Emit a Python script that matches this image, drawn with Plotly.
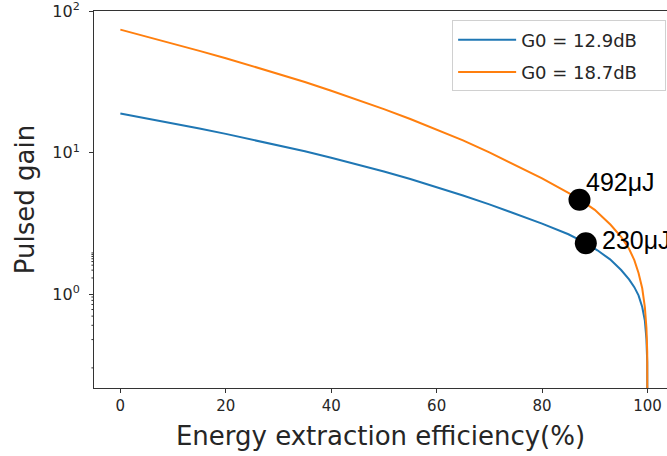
import math
import plotly.graph_objects as go

# Data
eff_blue = [0, 5, 10, 15, 20, 25, 30, 35, 40, 45, 50, 55, 60, 65, 70, 75, 80, 85, 88.3,
            90.5, 92.9, 95, 96.5, 97.5, 98.3, 99, 99.5, 99.8, 99.95, 100]
gain_blue = [18.9, 17.46, 16.11, 14.81, 13.57, 12.39, 11.27, 10.21, 9.20, 8.25, 7.36, 6.51, 5.71, 4.98,
             4.31, 3.70, 3.15, 2.65, 2.29, 2.04, 1.76, 1.48, 1.27, 1.12, 0.98, 0.81, 0.65, 0.48, 0.33, 0.05]

eff_orange = [0, 5, 10, 15, 20, 25, 30, 35, 40, 45, 50, 55, 60, 65, 70, 75, 80, 85, 87.1,
              90, 93, 95, 96.5, 97.5, 98.3, 99, 99.5, 99.8, 99.95, 100]
gain_orange = [74.0, 66.1, 58.9, 52.4, 46.5, 41.0, 36.1, 31.6, 27.4, 23.7, 20.3, 17.3, 14.6, 12.2,
               10.05, 8.18, 6.58, 5.19, 4.67, 3.94, 3.09, 2.54, 2.09, 1.74, 1.41, 1.10, 0.81, 0.575, 0.39, 0.05]

series_names = ["G0 = 12.9dB", "G0 = 18.7dB"]

point_eff = [87.1, 88.3]
point_gain = [4.65, 2.29]
point_labels = ["492μJ", "230μJ"]
label_eff = [87.9, 90.9]
label_gain = [6.22, 2.41]

x_ticks = [0, 20, 40, 60, 80, 100]
y_ticks = [1, 10, 100]
y_ticktext = ["10<sup>0</sup>", "10<sup>1</sup>", "10<sup>2</sup>"]
y_minor = [0.3, 0.4, 0.5, 0.6, 0.7, 0.8, 0.9, 2, 3, 4, 5, 6, 7, 8, 9, 20, 30, 40, 50, 60, 70, 80, 90]

pad = "&nbsp;" * 4
y_range = [-0.6635, 2.001]

fig = go.Figure()
fig.add_trace(go.Scatter(x=eff_blue, y=gain_blue, mode="lines", name=series_names[0] + pad,
                         legendgroup="a", line=dict(color="#1f77b4", width=2)))
fig.add_trace(go.Scatter(x=eff_orange, y=gain_orange, mode="lines", name=series_names[1] + pad,
                         legendgroup="b", line=dict(color="#ff7f0e", width=2)))
fig.add_trace(go.Scatter(x=point_eff, y=point_gain, mode="markers", showlegend=False,
                         marker=dict(color="black", size=22), cliponaxis=False))

for xe, yg, t in zip(label_eff, label_gain, point_labels):
    fig.add_annotation(x=xe, y=math.log10(yg), yref="y", xref="x", text=t, showarrow=False,
                       xanchor="left", yanchor="middle",
                       font=dict(family="Liberation Sans, Arial", size=25, color="black"))

# minor ticks on the log y axis
for v in y_minor:
    fig.add_shape(type="line", xref="paper", yref="y", x0=-0.0045, x1=0,
                  y0=math.log10(v), y1=math.log10(v), line=dict(color="#333", width=1),
                  layer="above")

fig.update_layout(
    width=667, height=456,
    margin=dict(l=94, r=0, t=11, b=68),
    paper_bgcolor="white", plot_bgcolor="white",
    font=dict(family="DejaVu Sans", size=15, color="#262626"),
    legend=dict(x=0.625, y=0.975, xanchor="left", yanchor="top",
                bgcolor="white", bordercolor="#d0d0d0", borderwidth=1, itemwidth=58,
                font=dict(size=18, color="#262626"), tracegroupgap=6),
    showlegend=True,
)
fig.update_xaxes(
    range=[-5, 103.7], tickvals=x_ticks, ticks="outside", ticklen=4, tickcolor="#333",
    showline=True, linecolor="#333", linewidth=1, mirror=True, showgrid=False, zeroline=False,
    title=dict(text="Energy extraction efficiency(%)", font=dict(size=26, color="#262626"), standoff=12),
)
fig.update_yaxes(
    type="log", range=y_range, tickvals=y_ticks, ticktext=y_ticktext,
    ticks="outside", ticklen=4, tickcolor="#333", tickfont=dict(size=16), ticklabelstandoff=6,
    showline=True, linecolor="#333", linewidth=1, mirror=False, showgrid=False, zeroline=False,
    title=dict(text="Pulsed gain", font=dict(size=26, color="#262626"), standoff=10),
)

fig.write_html("out.html")
